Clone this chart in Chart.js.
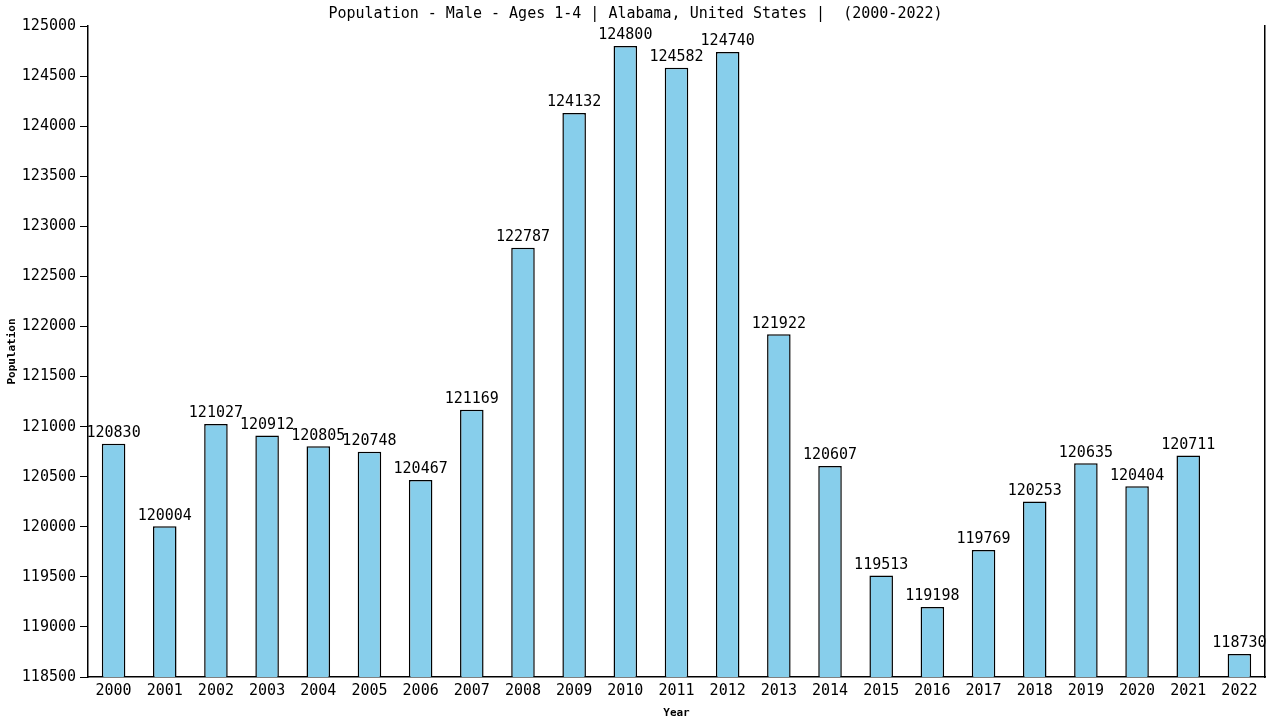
<!DOCTYPE html>
<html>
<head>
<meta charset="utf-8">
<script src="https://cdn.jsdelivr.net/npm/chart.js@4/dist/chart.umd.min.js"></script>
<style>
  html, body { margin: 0; padding: 0; background: #fff; }
  #chart { display: block; }
</style>
</head>
<body>
<canvas id="chart" width="1280" height="720"></canvas>
<script>
  // values
  const years = ['2000','2001','2002','2003','2004','2005','2006','2007','2008','2009','2010','2011',
                 '2012','2013','2014','2015','2016','2017','2018','2019','2020','2021','2022'];
  const population = [120830,120004,121027,120912,120805,120748,120467,121169,122787,124132,124800,124582,
                      124740,121922,120607,119513,119198,119769,120253,120635,120404,120711,118730];
  const yMin = 118500;
  const yMax = 125000;
  const yStep = 500;

  const mono = 'DejaVu Sans Mono, monospace';

  // value labels above each bar
  const barLabels = {
    id: 'barLabels',
    afterDatasetsDraw(c){
      const ctx = c.ctx;
      const meta = c.getDatasetMeta(0);
      ctx.save();
      ctx.font = '15px ' + mono;
      ctx.fillStyle = '#000';
      ctx.textAlign = 'center';
      ctx.textBaseline = 'bottom';
      meta.data.forEach((bar, i) => {
        ctx.fillText(String(population[i]), bar.x, bar.y - 3);
      });
      ctx.restore();
    }
  };

  const ctx = document.getElementById('chart').getContext('2d');
  new Chart(ctx, {
    type: 'bar',
    data: {
      labels: years,
      datasets: [{
        data: population,
        backgroundColor: '#87ceeb',
        borderColor: '#000',
        borderWidth: 1.5,
        borderSkipped: false,
        categoryPercentage: 1,
        barPercentage: 0.46,
      }],
    },
    options: {
      responsive: false,
      animation: false,
      devicePixelRatio: 1,
      layout: { padding: { left: 6, right: 15, top: 0, bottom: 0 } },
      plugins: {
        legend: { display: false },
        tooltip: { enabled: false },
        title: {
          display: true,
          text: 'Population - Male - Ages 1-4 | Alabama, United States |  (2000-2022)',
          color: '#000',
          font: { family: mono, size: 15, weight: 'normal' },
          padding: { top: 5, bottom: 3 },
        },
      },
      scales: {
        x: {
          grid: { display: false, drawTicks: false },
          border: { display: true, color: '#000', width: 1.5 },
          ticks: { color: '#000', font: { family: mono, size: 15 }, padding: 5, maxRotation: 0 },
          title: { display: true, text: 'Year', color: '#000', font: { family: mono, size: 11, weight: 'bold' }, padding: { top: 0, bottom: 0 } },
          afterFit(s){ s.height = 43; },
        },
        y: {
          min: yMin,
          max: yMax,
          grid: { drawOnChartArea: false, color: '#000', tickLength: 8 },
          border: { display: true, color: '#000', width: 1.5 },
          ticks: { stepSize: yStep, color: '#000', font: { family: mono, size: 15 }, padding: 4,
                   callback: v => String(v) },
          title: { display: true, text: 'Population', color: '#000', font: { family: mono, size: 11, weight: 'bold' }, padding: { top: 0, bottom: 0 } },
          afterFit(s){ s.width = 82; },
        },
        yRight: {
          position: 'right',
          min: yMin,
          max: yMax,
          grid: { display: false, drawTicks: false },
          border: { display: true, color: '#000', width: 1.5 },
          ticks: { display: false },
          afterFit(s){ s.width = 0; },
        },
      },
    },
    plugins: [barLabels],
  });
</script>
</body>
</html>
